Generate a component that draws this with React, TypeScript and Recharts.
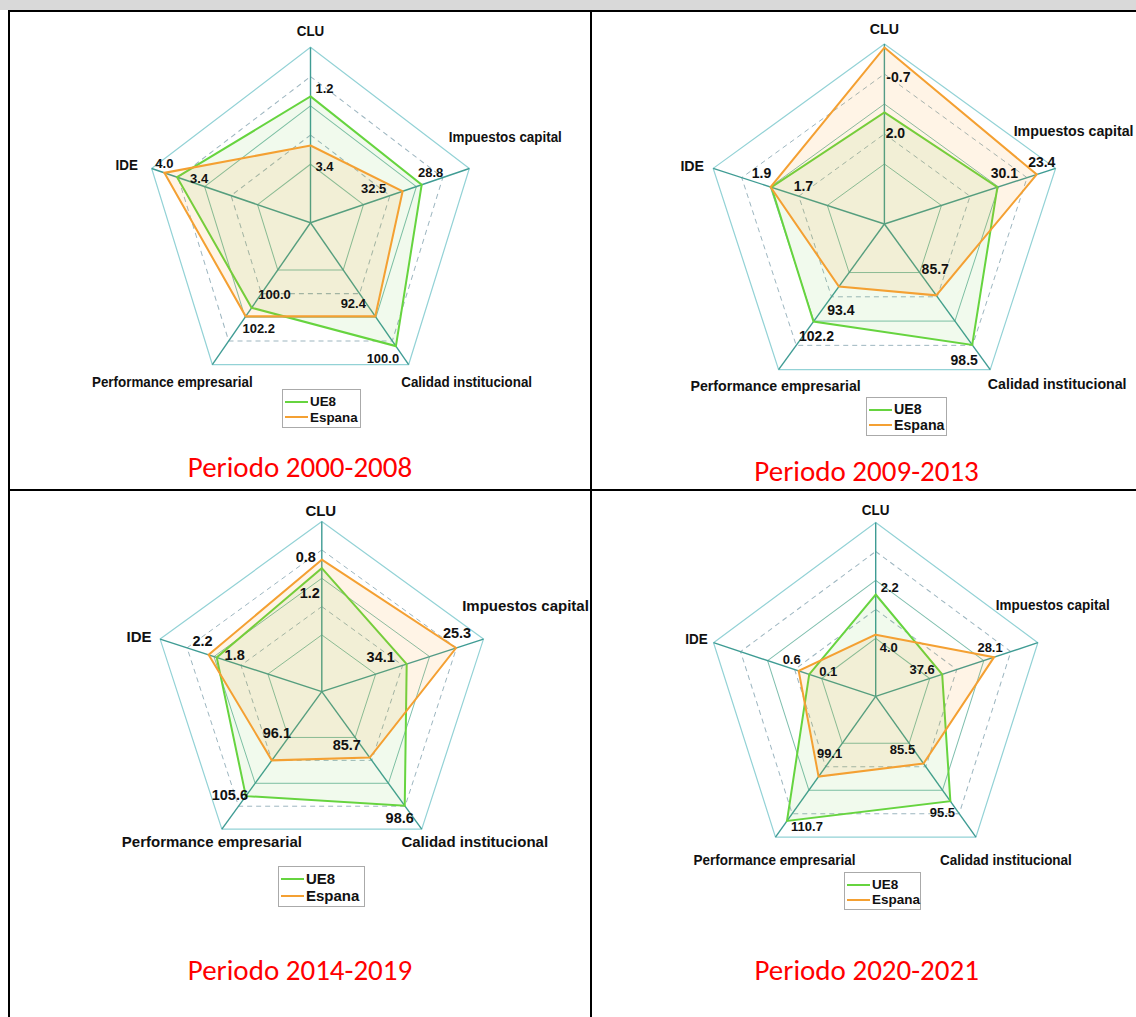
import React from 'react';
import { RadarChart, Radar, PolarGrid, PolarAngleAxis, PolarRadiusAxis } from 'recharts';

// ---------- data ----------
const AXES = ['CLU', 'Impuestos capital', 'Calidad institucional', 'Performance empresarial', 'IDE'];
const SERIES_NAMES = ['UE8', 'Espana'];
const PERIODS = ['Periodo 2000-2008', 'Periodo 2009-2013', 'Periodo 2014-2019', 'Periodo 2020-2021'];

// radial position of each vertex (share of the outer ring)
const ue8_2000_2008 = [0.72, 0.70, 0.87, 0.60, 0.84];
const espana_2000_2008 = [0.44, 0.58, 0.66, 0.66, 0.92];
const ue8_2009_2013 = [0.62, 0.66, 0.83, 0.67, 0.66];
const espana_2009_2013 = [0.98, 0.89, 0.49, 0.43, 0.665];
const ue8_2014_2019 = [0.726, 0.525, 0.83, 0.76, 0.65];
const espana_2014_2019 = [0.776, 0.83, 0.48, 0.50, 0.70];
const ue8_2020_2021 = [0.586, 0.41, 0.745, 0.885, 0.41];
const espana_2020_2021 = [0.355, 0.73, 0.477, 0.57, 0.475];

// value labels printed next to each vertex
const ue8Labels_2000_2008 = ['1.2', '28.8', '100.0', '100.0', '3.4'];
const espanaLabels_2000_2008 = ['3.4', '32.5', '92.4', '102.2', '4.0'];
const ue8Labels_2009_2013 = ['2.0', '30.1', '98.5', '102.2', '1.7'];
const espanaLabels_2009_2013 = ['-0.7', '23.4', '85.7', '93.4', '1.9'];
const ue8Labels_2014_2019 = ['1.2', '34.1', '98.6', '105.6', '1.8'];
const espanaLabels_2014_2019 = ['0.8', '25.3', '85.7', '96.1', '2.2'];
const ue8Labels_2020_2021 = ['2.2', '37.6', '95.5', '110.7', '0.1'];
const espanaLabels_2020_2021 = ['4.0', '28.1', '85.5', '99.1', '0.6'];

const CHART_VALUES = [
  { ue8: ue8_2000_2008, es: espana_2000_2008, ue8L: ue8Labels_2000_2008, esL: espanaLabels_2000_2008 },
  { ue8: ue8_2009_2013, es: espana_2009_2013, ue8L: ue8Labels_2009_2013, esL: espanaLabels_2009_2013 },
  { ue8: ue8_2014_2019, es: espana_2014_2019, ue8L: ue8Labels_2014_2019, esL: espanaLabels_2014_2019 },
  { ue8: ue8_2020_2021, es: espana_2020_2021, ue8L: ue8Labels_2020_2021, esL: espanaLabels_2020_2021 },
];

const buildRows = (i: number) => {
  const v = CHART_VALUES[i];
  return AXES.map((axis, j) => ({
    axis,
    ue8: v.ue8[j],
    espana: v.es[j],
    ue8Label: v.ue8L[j],
    espanaLabel: v.esL[j],
  }));
};

// ---------- layout / style ----------
const FONT = '"Liberation Sans", Arial, Helvetica, sans-serif';
const GREEN = '#66d43f';
const ORANGE = '#f4a032';
const GREEN_FILL = '#66cc33';
const ORANGE_FILL = '#ff9f1a';
const SERIES_COLORS = [GREEN, ORANGE];

type Layout = {
  left: number; top: number; width: number; height: number;
  cx: number; cy: number; R: number; k: number; font: number; numFont: number;
  titleX: number; titleY: number;
  legend: { x: number; y: number; w: number; h: number };
  axisOff: number[][]; ue8Off: number[][]; esOff: number[][];
};

const LAYOUT: Layout[] = [
  {
    left: 0, top: 12, width: 600, height: 476, cx: 310.5, cy: 222.7, R: 167, k: 1.05, font: 13.4, numFont: 13,
    titleX: 300, titleY: 468, legend: { x: 282, y: 389, w: 79, h: 39 },
    axisOff: [[0, -16], [36, -31], [58, 18], [-40, 18], [-25, -3]],
    ue8Off: [[14, -8], [9, -12], [-13, 12], [23, -13], [22, 1]],
    esOff: [[14, 21], [-29, -3], [-22, -13], [13, 12], [0, -9]],
  },
  {
    left: 580, top: 12, width: 556, height: 476, cx: 884.4, cy: 224, R: 180, k: 1, font: 14.2, numFont: 14,
    titleX: 866.6, titleY: 471.7, legend: { x: 866, y: 397, w: 81, h: 39 },
    axisOff: [[0, -15], [18, -37], [67, 14], [-3, 16], [-21, -2]],
    ue8Off: [[11, 21], [7, -14], [-8, 15], [3, 14], [32, -1]],
    esOff: [[14, 29], [5, -12], [-1, -26], [2, 23], [-9, -14]],
  },
  {
    left: 0, top: 491, width: 600, height: 526, cx: 321.8, cy: 691.6, R: 170, k: 1, font: 15, numFont: 14.5,
    titleX: 300, titleY: 971, legend: { x: 278, y: 866, w: 87, h: 41 },
    axisOff: [[-1, -11.5], [42, -34], [53, 12], [-10, 12], [-21, -3]],
    ue8Off: [[-12, 25], [-26, -7], [-5, 12], [-16, -1], [18, -2]],
    esOff: [[-16, -3], [1, -15], [-23, -13], [5, -27], [-6, -14]],
  },
  {
    left: 580, top: 491, width: 556, height: 526, cx: 875.7, cy: 696.4, R: 170.5, k: 1.02, font: 13.5, numFont: 13,
    titleX: 866.7, titleY: 971, legend: { x: 844, y: 872, w: 77, h: 38 },
    axisOff: [[0, -12], [15, -37], [30, 23], [-1, 23], [-17, -3]],
    ue8Off: [[14, -7], [-20, -5], [-8, 11], [20, 6], [19, -3]],
    esOff: [[13, 13], [-4, -10], [-21, -14], [11, -23], [-7, -11]],
  },
];

const RADIAN = Math.PI / 180;

function PeriodRadar({ index }: { index: number }) {
  const l = LAYOUT[index];
  const rows = buildRows(index);
  const cxL = l.cx - l.left;
  const cyL = l.cy - l.top;

  const axisTick = (props: any) => {
    const { payload } = props;
    const idx = AXES.indexOf(payload.value);
    const angle = typeof payload.coordinate === 'number' ? payload.coordinate : 90 - 72 * idx;
    const vx = cxL + l.R * Math.cos(-angle * RADIAN);
    const vy = cyL + l.R * Math.sin(-angle * RADIAN);
    const [dx, dy] = l.axisOff[idx];
    return (
      <text
        key={`ax-${idx}`}
        x={vx + dx}
        y={vy + dy / l.k}
        textAnchor="middle"
        dominantBaseline="central"
        fontFamily={FONT}
        fontWeight={700}
        fontSize={l.font}
        fill="#111"
      >
        {payload.value}
      </text>
    );
  };

  const valueLabel = (offs: number[][], key: 'ue8Label' | 'espanaLabel') => (p: any) => {
    const i = p.index;
    const [dx, dy] = offs[i];
    return (
      <text
        key={`${key}-${i}`}
        x={p.cx + dx}
        y={p.cy + dy / l.k}
        textAnchor="middle"
        dominantBaseline="central"
        fontFamily={FONT}
        fontWeight={700}
        fontSize={l.numFont}
        fill="#111"
      >
        {rows[i][key]}
      </text>
    );
  };

  return (
    <div style={{ position: 'absolute', left: l.left, top: l.top, width: l.width, height: l.height }}>
      <div style={{ transform: `scaleY(${l.k})`, transformOrigin: `0px ${cyL}px` }}>
        <RadarChart
          width={l.width}
          height={l.height}
          data={rows}
          cx={cxL}
          cy={cyL}
          outerRadius={l.R}
          margin={{ top: 0, right: 0, bottom: 0, left: 0 }}
          startAngle={90}
          endAngle={-270}
        >
          <PolarGrid gridType="polygon" radialLines={false} polarRadius={[l.R / 3, (2 * l.R) / 3]} stroke="#7fbfae" strokeWidth={1} />
          <PolarGrid gridType="polygon" radialLines={false} polarRadius={[l.R / 2, (5 * l.R) / 6]} stroke="#9db6c0" strokeWidth={1} strokeDasharray="5 4" />
          <PolarGrid gridType="polygon" radialLines={false} polarRadius={[l.R]} stroke="#93d2d6" strokeWidth={1.2} />
          <PolarAngleAxis dataKey="axis" tick={axisTick} tickLine={false} axisLine={false} />
          <PolarRadiusAxis type="number" domain={[0, 1]} tick={false} axisLine={false} />
          <Radar
            name="UE8"
            dataKey="ue8"
            stroke={GREEN}
            strokeWidth={2}
            fill={GREEN_FILL}
            fillOpacity={0.09}
            isAnimationActive={false}
            dot={valueLabel(l.ue8Off, 'ue8Label')}
          />
          <Radar
            name="Espana"
            dataKey="espana"
            stroke={ORANGE}
            strokeWidth={2}
            fill={ORANGE_FILL}
            fillOpacity={0.11}
            isAnimationActive={false}
            dot={valueLabel(l.esOff, 'espanaLabel')}
          />
          <PolarGrid gridType="polygon" radialLines={true} polarRadius={[]} stroke="#3f9c94" strokeWidth={1.4} />
        </RadarChart>
      </div>
    </div>
  );
}

function LegendBox({ index }: { index: number }) {
  const l = LAYOUT[index];
  const rowH = (l.legend.h - 8) / 2;
  return (
    <div
      style={{
        position: 'absolute', left: l.legend.x, top: l.legend.y, width: l.legend.w, height: l.legend.h,
        boxSizing: 'border-box', border: '1px solid #aaaaaa', background: '#fff',
        fontFamily: FONT, fontWeight: 700, fontSize: l.font, color: '#111', paddingTop: 4,
      }}
    >
      {SERIES_NAMES.map((n, i) => (
        <div key={n} style={{ display: 'flex', alignItems: 'center', height: rowH, lineHeight: `${rowH}px` }}>
          <span style={{ display: 'inline-block', width: 23, height: 2, background: SERIES_COLORS[i], marginLeft: 2, marginRight: 2 }} />
          <span>{n}</span>
        </div>
      ))}
    </div>
  );
}

function Title({ index }: { index: number }) {
  const l = LAYOUT[index];
  return (
    <div
      style={{
        position: 'absolute', left: l.titleX - 200, top: l.titleY - 15, width: 400, textAlign: 'center',
        fontFamily: 'Carlito, Calibri, Lato, "Open Sans", sans-serif', fontSize: 29, lineHeight: '29px', color: '#ff0000',
        whiteSpace: 'nowrap',
      }}
    >
      {PERIODS[index]}
    </div>
  );
}

export default function App() {
  const line = (s: React.CSSProperties) => <div style={{ position: 'absolute', background: '#000', ...s }} />;
  return (
    <div style={{ position: 'absolute', left: 0, top: 0, width: 1136, height: 1017, background: '#fff', overflow: 'hidden' }}>
      <div style={{ position: 'absolute', left: 0, top: 0, width: 1136, height: 9.5, background: '#d9d9d9' }} />
      {line({ left: 8, top: 9.5, width: 1128, height: 2 })}
      {line({ left: 7.5, top: 9.5, width: 2, height: 1008 })}
      {line({ left: 590, top: 9.5, width: 2, height: 1008 })}
      {line({ left: 8, top: 488.8, width: 1128, height: 1.8 })}
      {[0, 1, 2, 3].map((i) => (
        <React.Fragment key={i}>
          <PeriodRadar index={i} />
          <LegendBox index={i} />
          <Title index={i} />
        </React.Fragment>
      ))}
    </div>
  );
}
